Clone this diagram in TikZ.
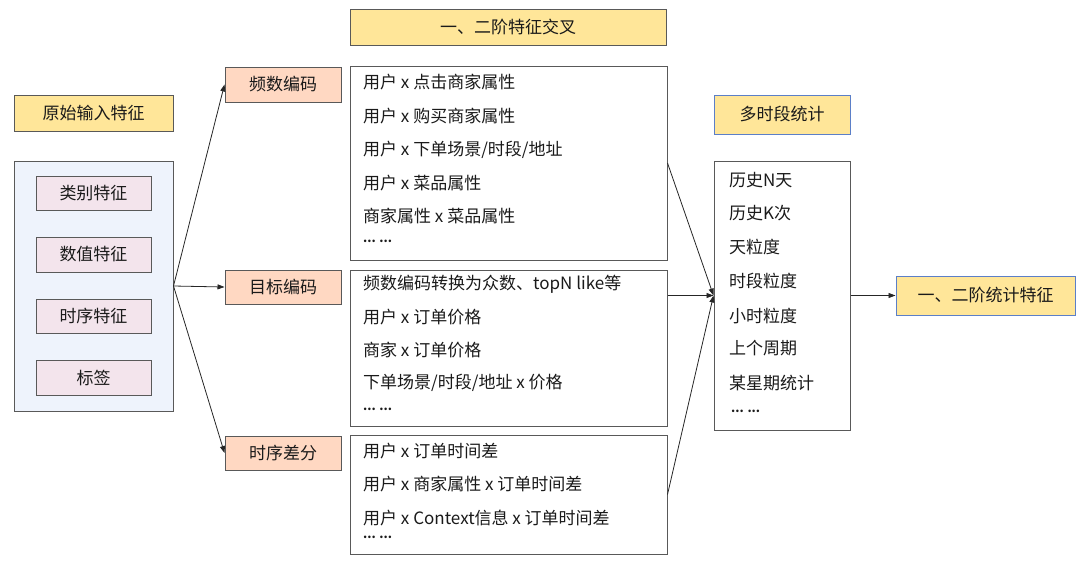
\documentclass[tikz,border=0pt]{standalone}
\usepackage{fontspec}
\setmainfont{Noto Sans CJK SC}
\usetikzlibrary{arrows.meta}
\definecolor{edge}{HTML}{595959}
\definecolor{ylw}{HTML}{FFE699}
\definecolor{peach}{HTML}{FFD8C2}
\definecolor{pinkf}{HTML}{F3E4EC}
\definecolor{lblue}{HTML}{EEF3FC}
\definecolor{bblue}{HTML}{5B7FC8}
\definecolor{txt}{HTML}{1A1A1A}
\tikzset{
  box/.style={draw=edge, line width=1pt, rectangle, inner sep=0pt, text=txt, font=\fontsize{17}{20}\selectfont},
  ybox/.style={box, fill=ylw},
  ybbox/.style={box, fill=ylw, draw=bblue},
  pbox/.style={box, fill=peach},
  ibox/.style={box, fill=pinkf},
  lbox/.style={draw=edge, line width=1pt, rectangle, inner sep=0pt, fill=white},
  item/.style={anchor=west, inner sep=0pt, text=txt, font=\fontsize{17}{20}\selectfont},
  dots/.style={anchor=west, inner sep=0pt, text=txt, font=\fontsize{12}{14}\selectfont},
  arr/.style={draw=black!85, line width=0.8pt, -{Triangle[length=7pt,width=5pt]}},
  ln/.style={draw=black!85, line width=0.8pt}
}
\begin{document}
\begin{tikzpicture}[x=1pt,y=-1pt]
\useasboundingbox (0,0) rectangle (1080,571);
% left column
\node[ybox, minimum width=159pt, minimum height=36pt] (orig) at (93.5,113) {原始输入特征};
\node[box, fill=lblue, minimum width=159pt, minimum height=250pt] (left) at (93.5,286) {};
\node[ibox, minimum width=115pt, minimum height=34pt] (cat) at (93.5,193) {类别特征};
\node[ibox, minimum width=115pt, minimum height=35pt] (num) at (93.5,254.5) {数值特征};
\node[ibox, minimum width=115pt, minimum height=34pt] (seq) at (93.5,316) {时序特征};
\node[ibox, minimum width=115pt, minimum height=35pt] (lab) at (93.5,377.5) {标签};
% encoders
\node[pbox, minimum width=116pt, minimum height=35pt] (freq) at (283,84.5) {频数编码};
\node[pbox, minimum width=116pt, minimum height=34pt] (tgt) at (283,287) {目标编码};
\node[pbox, minimum width=116pt, minimum height=34pt] (diff) at (283,453) {时序差分};
% cross title
\node[ybox, minimum width=316pt, minimum height=36pt, font=\fontsize{17}{20}\selectfont] (cross) at (508,27) {一、二阶特征交叉};
% list boxes
\node[lbox, minimum width=317pt, minimum height=194pt] (b1) at (508.5,163) {};
\node[lbox, minimum width=317pt, minimum height=156pt] (b2) at (508.5,348) {};
\node[lbox, minimum width=317pt, minimum height=119pt] (b3) at (508.5,494.5) {};
\node[item] (b1a) at (363,82) {用户 x 点击商家属性};
\node[item] (b1b) at (363,116) {用户 x 购买商家属性};
\node[item] (b1c) at (363,150) {用户 x 下单场景/时段/地址};
\node[item] (b1d) at (363,183) {用户 x 菜品属性};
\node[item] (b1e) at (363,216) {商家属性 x 菜品属性};
\node[dots] (b1f) at (363,241) {\textbf{... ...}};
\node[item] (b2a) at (363,284) {频数编码转换为众数、topN like等};
\node[item] (b2b) at (363,317) {用户 x 订单价格};
\node[item] (b2c) at (363,350) {商家 x 订单价格};
\node[item] (b2d) at (363,383) {下单场景/时段/地址 x 价格};
\node[dots] (b2e) at (363,409) {\textbf{... ...}};
\node[item] (b3a) at (363,451) {用户 x 订单时间差};
\node[item] (b3b) at (363,484) {用户 x 商家属性 x 订单时间差};
\node[item] (b3c) at (363,518) {用户 x Context信息 x 订单时间差};
\node[dots] (b3d) at (363,537) {\textbf{... ...}};
% stats
\node[ybbox, minimum width=136pt, minimum height=39pt] (multi) at (782,114.5) {多时段统计};
\node[lbox, minimum width=136pt, minimum height=269pt] (stats) at (782,295.5) {};
\node[item] (s1) at (729,180) {历史N天};
\node[item] (s2) at (729,213) {历史K次};
\node[item] (s3) at (729,247) {天粒度};
\node[item] (s4) at (729,281) {时段粒度};
\node[item] (s5) at (729,316) {小时粒度};
\node[item] (s6) at (729,348) {上个周期};
\node[item] (s7) at (729,383) {某星期统计};
\node[dots] (s8) at (731,411) {\textbf{... ...}};
\node[ybbox, minimum width=179pt, minimum height=39pt] (out) at (985.5,295.5) {一、二阶统计特征};
% connectors
\draw[arr] (left.east) -- (freq.west);
\draw[arr] (left.east) -- (tgt.west);
\draw[arr] (left.east) -- (diff.west);
\draw[arr] (b1.east) -- (stats.west);
\draw[arr] (b2.east |- stats.west) -- (stats.west);
\draw[arr] (b3.east) -- (stats.west);
\draw[arr] (stats.east) -- (out.west);
\end{tikzpicture}
\end{document}
